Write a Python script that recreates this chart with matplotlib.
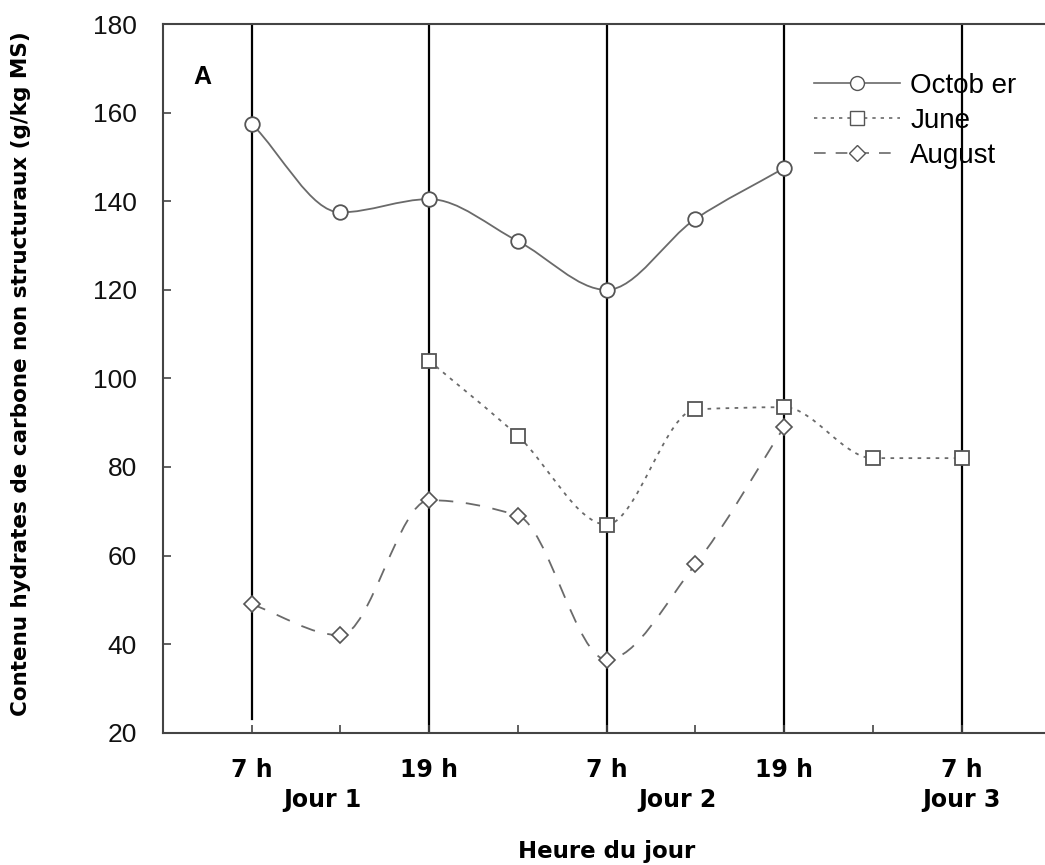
import matplotlib
matplotlib.use("Agg")
import matplotlib.pyplot as plt
from matplotlib.path import Path
from matplotlib.patches import PathPatch
from matplotlib.lines import Line2D
import numpy as np

# sampling times (index of 6 h steps from 7 h day 1)
x_oct = [0, 1, 2, 3, 4, 5, 6]
y_oct = [157.5, 137.5, 140.5, 131, 120, 136, 147.5]

x_jun = [2, 3, 4, 5, 6, 7, 8]
y_jun = [104, 87, 67, 93, 93.5, 82, 82]

x_aug = [0, 1, 2, 3, 4, 5, 6]
y_aug = [49, 42, 72.5, 69, 36.5, 58, 89]

tick_pos = [0, 2, 4, 6, 8]
tick_labels = ["7 h", "19 h", "7 h", "19 h", "7 h"]
day_pos = [0.8, 4.8, 8]
day_labels = ["Jour 1", "Jour 2", "Jour 3"]

grey = "#555555"
line_grey = "#6a6a6a"


def smooth_path(xs, ys):
    # cubic bezier through the points, monotone (pchip-like) tangents
    x = np.asarray(xs, float)
    y = np.asarray(ys, float)
    h = np.diff(x)
    d = np.diff(y) / h
    n = len(x)
    m = np.zeros(n)
    m[0], m[-1] = d[0], d[-1]
    for i in range(1, n - 1):
        if d[i - 1] * d[i] > 0:
            m[i] = 2.0 / (1.0 / d[i - 1] + 1.0 / d[i])
    verts = [(x[0], y[0])]
    codes = [Path.MOVETO]
    for i in range(n - 1):
        verts += [(x[i] + h[i] / 3, y[i] + m[i] * h[i] / 3),
                  (x[i + 1] - h[i] / 3, y[i + 1] - m[i + 1] * h[i] / 3),
                  (x[i + 1], y[i + 1])]
        codes += [Path.CURVE4] * 3
    return Path(verts, codes)


fig = plt.figure(figsize=(10.45, 8.65), dpi=100)
ax = fig.add_axes([0.156, 0.153, 0.849, 0.819])

ax.set_xlim(-1, 9)
ax.set_ylim(20, 180)

# vertical time markers
for i, xp in enumerate(tick_pos):
    ax.plot([xp, xp], [23 if i == 0 else 20, 180], color="black", lw=1.6, zorder=1)

for xs, ys, ls in [(x_oct, y_oct, "-"), (x_jun, y_jun, (0, (2, 3))), (x_aug, y_aug, (0, (8, 7)))]:
    ax.add_patch(PathPatch(smooth_path(xs, ys), fill=False, edgecolor=line_grey, lw=1.3,
                           linestyle=ls, zorder=2))

ax.plot(x_oct, y_oct, ls="none", marker="o", ms=10.5, mfc="white", mec=grey, mew=1.3, zorder=3)
ax.plot(x_jun, y_jun, ls="none", marker="s", ms=10, mfc="white", mec=grey, mew=1.3, zorder=3)
ax.plot(x_aug, y_aug, ls="none", marker="D", ms=8.5, mfc="white", mec=grey, mew=1.2, zorder=3)

ax.spines["right"].set_visible(False)
for s in ["left", "bottom", "top"]:
    ax.spines[s].set_color("#444444")
    ax.spines[s].set_linewidth(1.5)

ax.set_yticks(range(20, 181, 20))
ax.set_yticklabels([str(v) for v in range(20, 181, 20)], fontsize=19,
                   family="Liberation Sans", color="#111111")
ax.set_xticks(range(0, 9))
ax.set_xticklabels(["" for _ in range(9)])
ax.tick_params(direction="in", length=6, width=1.2, color="#444444")
ax.tick_params(axis="y", pad=19)

for xp, lab in zip(tick_pos, tick_labels):
    ax.text(xp, 11.5, lab, ha="center", va="center", fontsize=17, fontweight="bold",
            family="DejaVu Sans")
for xp, lab in zip(day_pos, day_labels):
    ax.text(xp, 4.7, lab, ha="center", va="center", fontsize=17, fontweight="bold",
            family="DejaVu Sans")

ax.text(0.5, -0.168, "Heure du jour", transform=ax.transAxes, ha="center", va="center",
        fontsize=16.5, fontweight="bold")
fig.text(0.02, 0.568, "Contenu hydrates de carbone non structuraux (g/kg MS)", rotation=90,
         ha="center", va="center", fontsize=15.5, fontweight="bold")

ax.text(-0.56, 168, "A", fontsize=18, fontweight="bold", family="Liberation Sans",
        ha="center", va="center")

handles = [
    Line2D([], [], color=line_grey, lw=1.2, ls="-", marker="o", ms=10, mfc="white", mec=grey),
    Line2D([], [], color=line_grey, lw=1.2, ls=(0, (2, 3)), marker="s", ms=10, mfc="white", mec=grey),
    Line2D([], [], color=line_grey, lw=1.2, ls=(0, (7, 6)), marker="D", ms=8, mfc="white", mec=grey),
]
leg = ax.legend(handles, ["Octob er", "June", "August"], loc="upper left",
                bbox_to_anchor=(0.7215, 0.947), frameon=False, handlelength=3.1,
                handletextpad=0.35, labelspacing=0.32, borderaxespad=0.0,
                prop={"family": "Liberation Sans", "size": 20})

fig.savefig("out.png", dpi=100)
